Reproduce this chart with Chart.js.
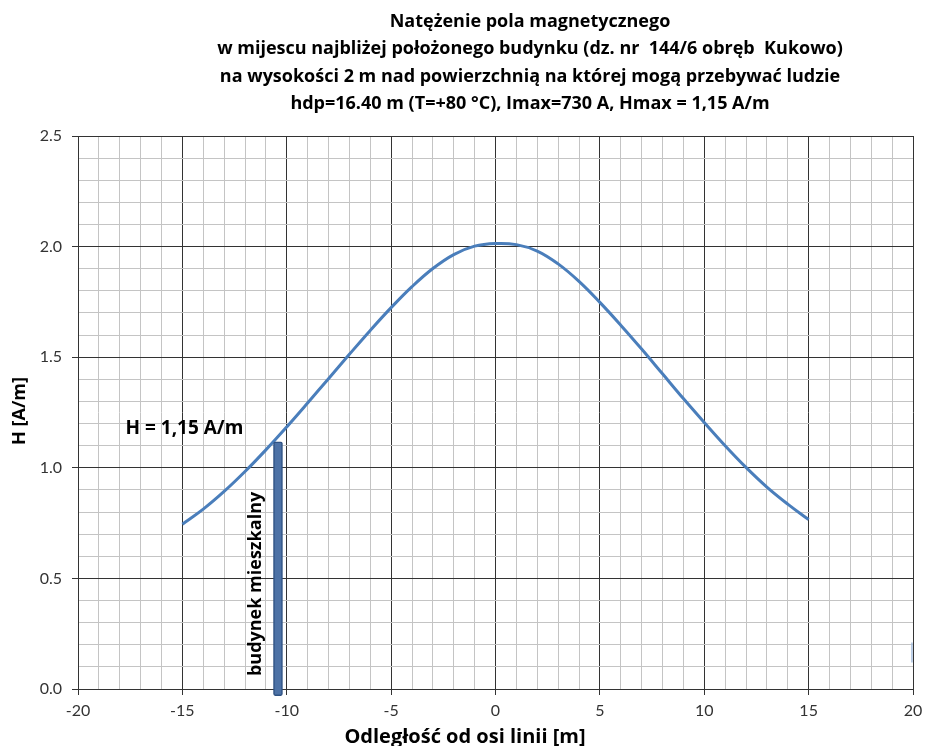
<!DOCTYPE html>
<html>
<head>
<meta charset="utf-8">
<script src="https://cdn.jsdelivr.net/npm/chart.js@4"></script>
<style>
  body { margin: 0; background: #fff; }
  #box { width: 925px; height: 746px; position: relative; }
</style>
</head>
<body>
<div id="box"><canvas id="myChart"></canvas></div>
<script>
// Dane
const tytul = [
  'Natężenie pola magnetycznego',
  'w mijescu najbliżej położonego budynku (dz. nr  144/6 obręb  Kukowo)',
  'na wysokości 2 m nad powierzchnią na której mogą przebywać ludzie',
  'hdp=16.40 m (T=+80 °C), Imax=730 A, Hmax = 1,15 A/m'
]
const tytulX = 'Odległość od osi linii [m]'
const tytulY = 'H [A/m]'
const opisH = 'H = 1,15 A/m'
const opisBudynek = 'budynek mieszkalny'

// odleglosc od osi linii [m]
const odleglosci = [-15, -14, -13, -12, -11, -10, -9, -8, -7, -6, -5, -4, -3, -2, -1, 0,
  1, 2, 3, 4, 5, 6, 7, 8, 9, 10, 11, 12, 13, 14, 15]
// natezenie pola H [A/m]
const natezenie = [0.745, 0.813, 0.893, 0.983, 1.081, 1.185, 1.293, 1.403, 1.513, 1.621, 1.724, 1.819, 1.901, 1.964, 2.002, 2.014,
  2.009, 1.980, 1.922, 1.843, 1.748, 1.645, 1.537, 1.425, 1.313, 1.205, 1.100, 1.002, 0.913, 0.836, 0.766]

// budynek mieszkalny: polozenie i wysokosc slupka
const budynekX = [-10.42]
const budynekY = [[-0.03, 1.117]]

// drobna kreska przy prawej krawedzi
const kreskaX = [19.95, 19.95]
const kreskaY = [0.12, 0.21]

const xMin = -20
const xMax = 20
const yMin = 0
const yMax = 2.5

const idMyChart = document.getElementById('myChart')

const czyGlownaX = (v) => Math.round(v) % 5 === 0
const czyGlownaY = (v) => Math.round(v * 10) % 5 === 0
const kolorX = (c) => (!c.tick || czyGlownaX(c.tick.value)) ? '#333333' : '#c4c4c4'
const kolorY = (c) => (!c.tick || czyGlownaY(c.tick.value)) ? '#333333' : '#c4c4c4'
const kreskaKolorX = (c) => (!c.tick || czyGlownaX(c.tick.value)) ? '#333333' : 'rgba(0,0,0,0)'
const kreskaKolorY = (c) => (!c.tick || czyGlownaY(c.tick.value)) ? '#333333' : 'rgba(0,0,0,0)'

const teksty = {
  id: 'teksty',
  afterDraw (chart) {
    const { ctx, scales: { x, y } } = chart
    ctx.save()
    ctx.fillStyle = '#000'
    ctx.textAlign = 'center'
    ctx.textBaseline = 'alphabetic'

    // tytul
    ctx.font = 'bold 18px "Open Sans"'
    tytul.forEach((linia, i) => {
      ctx.fillText(linia, 530, 27 + i * 27.3)
    })

    // tytul osi X
    ctx.font = 'bold 20px "Open Sans"'
    ctx.fillText(tytulX, 465, 743)

    // tytul osi Y
    ctx.save()
    ctx.font = 'bold 18px "Open Sans"'
    ctx.translate(20, 411)
    ctx.rotate(-Math.PI / 2)
    ctx.textBaseline = 'middle'
    ctx.fillText(tytulY, 0, 0)
    ctx.restore()

    // opis H = 1,15 A/m
    ctx.font = 'bold 19px "Open Sans"'
    ctx.textBaseline = 'middle'
    ctx.fillText(opisH, x.getPixelForValue(-14.9), y.getPixelForValue(1.175))

    // opis budynku
    ctx.save()
    ctx.font = 'bold 18px "Open Sans"'
    ctx.translate(x.getPixelForValue(-11.47), y.getPixelForValue(0.475))
    ctx.rotate(-Math.PI / 2)
    ctx.fillText(opisBudynek, 0, 0)
    ctx.restore()

    ctx.restore()
  }
}

const data = {
  datasets: [
    {
      type: 'bar',
      label: 'budynek',
      data: budynekX.map((v, i) => ({ x: v, y: budynekY[i] })),
      backgroundColor: '#4d72a6',
      borderColor: '#2f5283',
      borderWidth: 1.5,
      borderRadius: 2,
      borderSkipped: false,
      barThickness: 9,
      clip: false,
      order: 0
    },
    {
      type: 'line',
      label: 'H',
      data: odleglosci.map((v, i) => ({ x: v, y: natezenie[i] })),
      borderColor: '#4a7ebb',
      borderWidth: 3,
      pointRadius: 0,
      tension: 0.4,
      fill: false,
      order: 1
    },
    {
      type: 'line',
      label: 'kreska',
      data: kreskaX.map((v, i) => ({ x: v, y: kreskaY[i] })),
      borderColor: '#a9c1e0',
      borderWidth: 1.5,
      pointRadius: 0,
      fill: false,
      order: 2
    }
  ]
}

const config = {
  type: 'line',
  data,
  options: {
    responsive: true,
    maintainAspectRatio: false,
    animation: false,
    layout: { padding: { top: 136, right: 12, left: 0, bottom: 0 } },
    plugins: {
      legend: { display: false },
      tooltip: { enabled: false }
    },
    scales: {
      x: {
        type: 'linear',
        min: xMin,
        max: xMax,
        offset: false,
        afterFit: (scale) => {
          scale.height = 57
          scale.paddingLeft = 0
          scale.paddingRight = 0
        },
        ticks: {
          stepSize: 1,
          autoSkip: false,
          maxRotation: 0,
          padding: 6,
          color: '#333333',
          font: { family: 'Lato', size: 16 },
          callback: (v) => czyGlownaX(v) ? String(v) : ''
        },
        grid: {
          offset: false,
          color: kolorX,
          tickColor: kreskaKolorX,
          tickLength: 6,
          lineWidth: 1
        },
        border: { color: '#333333' }
      },
      y: {
        type: 'linear',
        min: yMin,
        max: yMax,
        afterFit: (scale) => {
          scale.width = 78
          scale.paddingTop = 0
          scale.paddingBottom = 0
        },
        ticks: {
          stepSize: 0.1,
          autoSkip: false,
          padding: 10,
          color: '#333333',
          font: { family: 'Lato', size: 16 },
          callback: (v) => czyGlownaY(v) ? v.toFixed(1) : ''
        },
        grid: {
          color: kolorY,
          tickColor: kreskaKolorY,
          tickLength: 6,
          lineWidth: 1
        },
        border: { color: '#333333' }
      }
    }
  },
  plugins: [teksty]
}

const chart = new Chart(idMyChart, config)
</script>
</body>
</html>
